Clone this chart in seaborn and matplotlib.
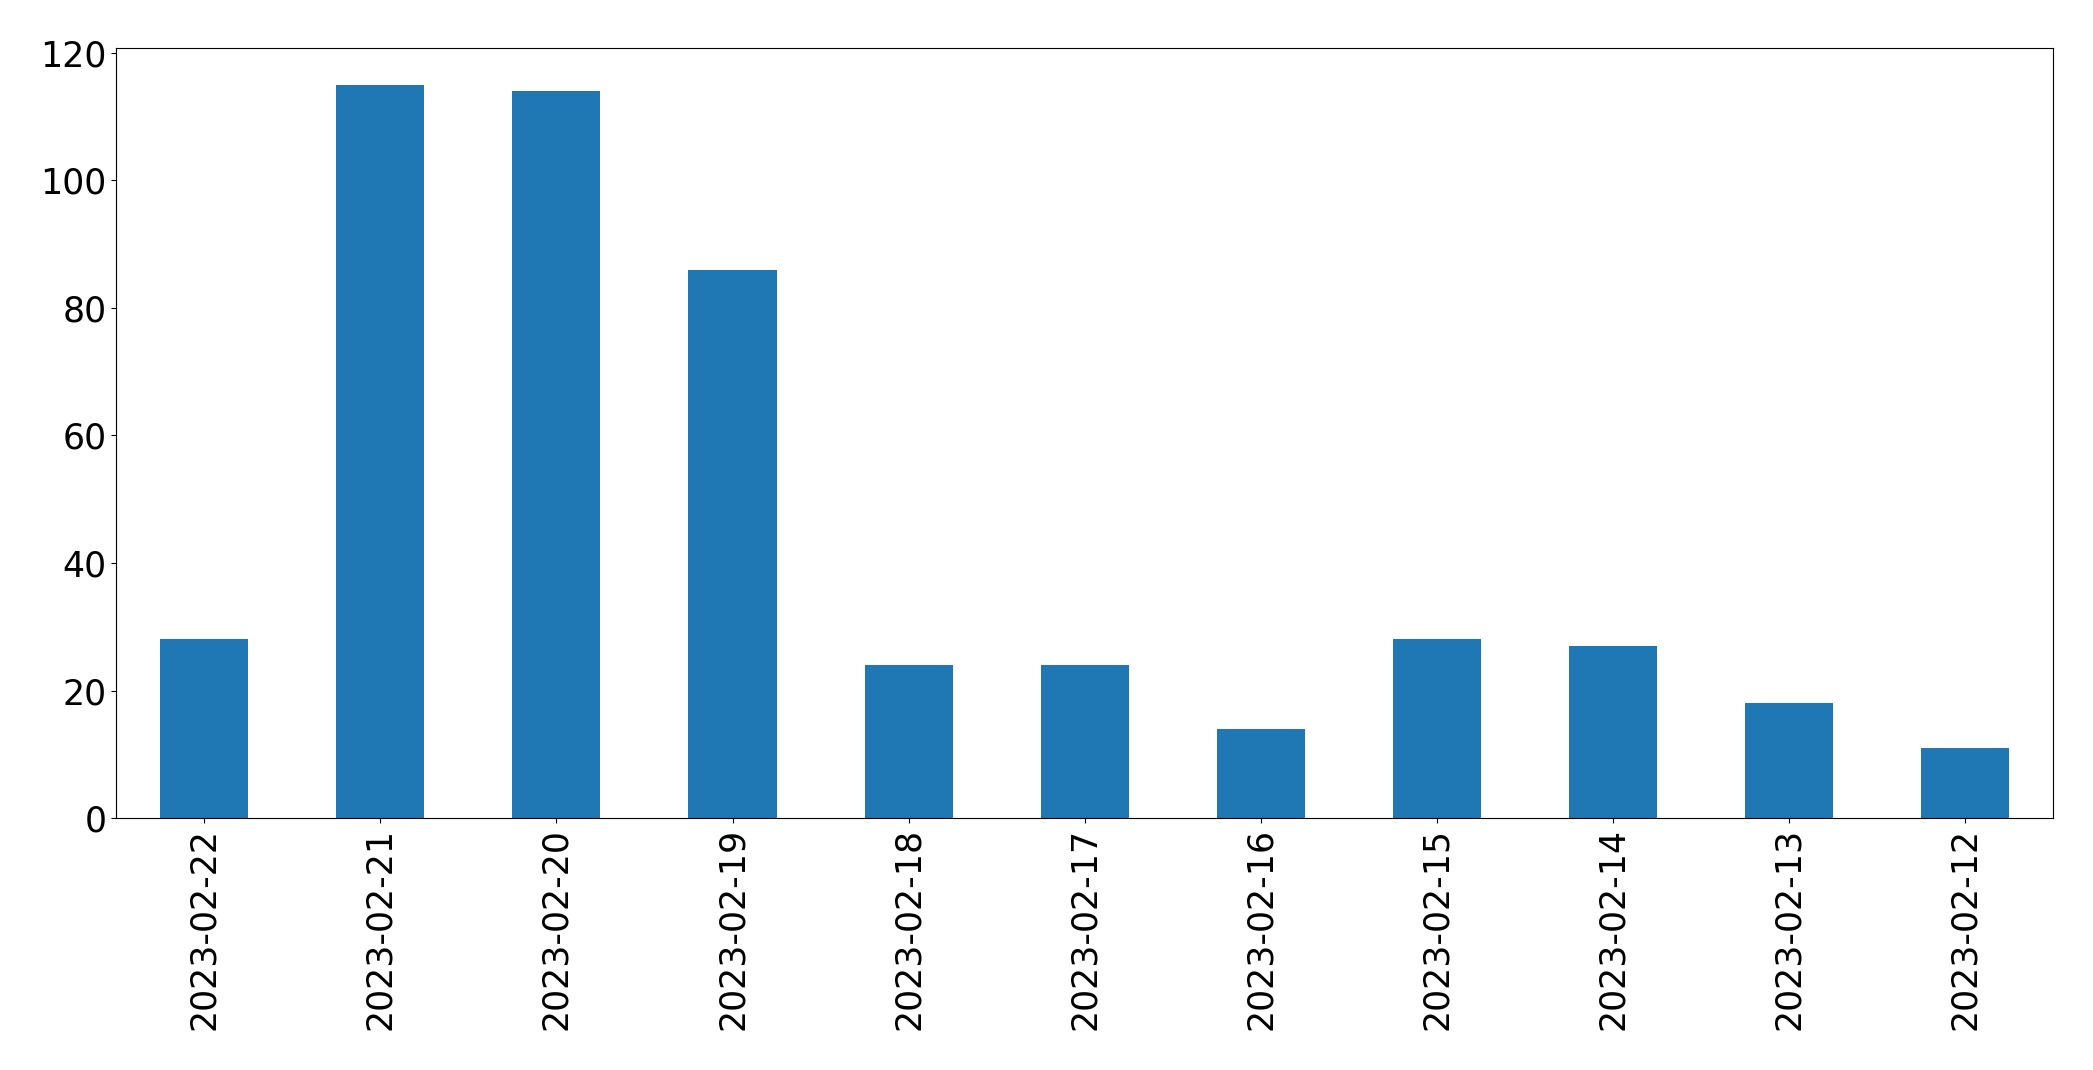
import matplotlib
matplotlib.use("Agg")
import matplotlib.pyplot as plt
import pandas as pd
import seaborn as sns

dates = [
    "2023-02-22", "2023-02-21", "2023-02-20", "2023-02-19", "2023-02-18",
    "2023-02-17", "2023-02-16", "2023-02-15", "2023-02-14", "2023-02-13",
    "2023-02-12",
]
counts = [28, 115, 114, 86, 24, 24, 14, 28, 27, 18, 11]

df = pd.DataFrame({"date": dates, "count": counts})

fig, ax = plt.subplots(figsize=(20.93, 10.7), dpi=100)
fig.subplots_adjust(left=0.0555, right=0.981, top=0.955, bottom=0.2355)

sns.barplot(data=df, x="date", y="count", order=dates, color="#1f77b4",
            saturation=1, width=0.5, linewidth=0, ax=ax)

ax.set_xlabel("")
ax.set_ylabel("")
ax.tick_params(axis="x", labelrotation=90, labelsize=25)
ax.tick_params(axis="y", labelsize=25)
ax.set_xlim(-0.5, len(dates) - 0.5)
for s in ax.spines.values():
    s.set_edgecolor("black")

fig.savefig("out.png", dpi=100)
